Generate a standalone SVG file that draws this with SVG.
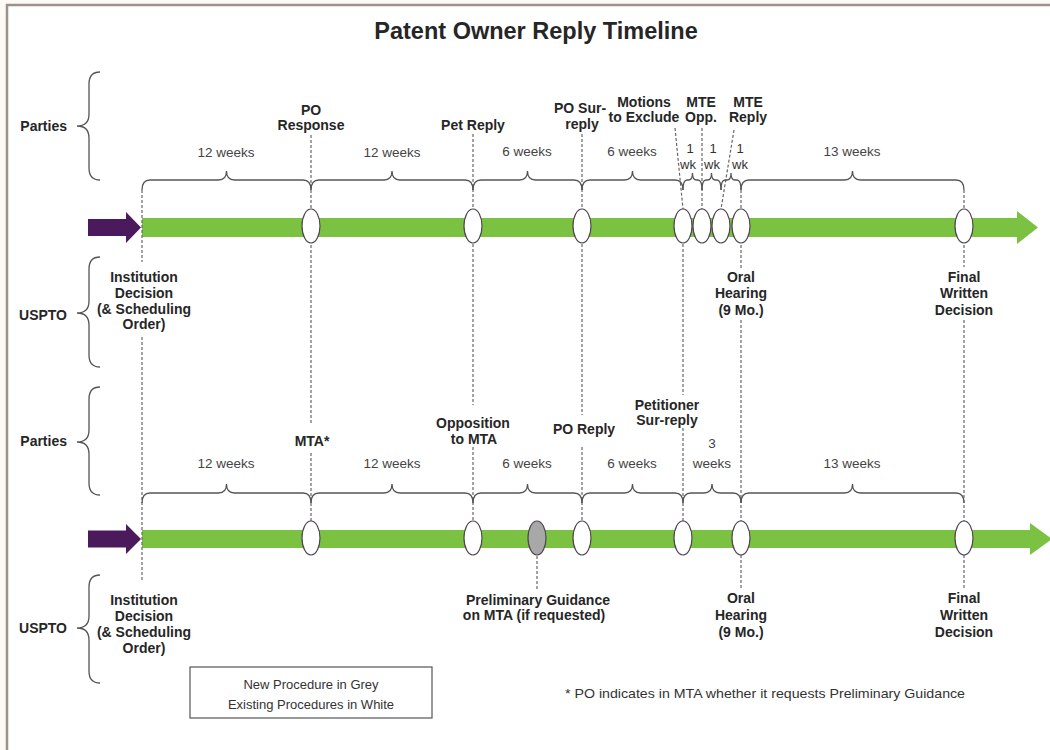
<svg xmlns="http://www.w3.org/2000/svg" width="1050" height="750" viewBox="0 0 1050 750">
<style>
text{font-family:"Liberation Sans",Arial,sans-serif;fill:#262626}
.t{font-size:23.5px;font-weight:bold;text-anchor:middle}
.b{font-size:14px;font-weight:bold;text-anchor:middle}
.s{font-size:14px;font-weight:bold;text-anchor:end}
.w{font-size:13.5px;text-anchor:middle;fill:#444}
.n{font-size:13px;text-anchor:middle;fill:#333}
.br{fill:none;stroke:#555;stroke-width:1.3}
.d{fill:none;stroke:#666;stroke-width:1.2;stroke-dasharray:3 2}
.ev{fill:#fff;stroke:#4d4450;stroke-width:1.2}
.pg{fill:#a8a8a8;stroke:#4d4450;stroke-width:1.2}
.green{fill:#7cc242}
.purple{fill:#4a1a5c}
</style>
<rect x="0" y="0" width="1050" height="750" fill="#fdfaf6"/>
<rect x="7" y="5" width="1060" height="760" fill="#ffffff" stroke="#9c928b" stroke-width="2.5"/>
<text class="t" x="536" y="39">Patent Owner Reply Timeline</text>

<g id="side-labels">
<text class="s" x="67" y="131">Parties</text>
<text class="s" x="67" y="320">USPTO</text>
<text class="s" x="67" y="446">Parties</text>
<text class="s" x="67" y="633">USPTO</text>
<path class="br" d="M100,72 Q89,72 89,84 L89,114 Q89,126 77,126 Q89,126 89,138 L89,168 Q89,180 100,180"/>
<path class="br" d="M100,257 Q89,257 89,269 L89,301 Q89,313 77,313 Q89,313 89,325 L89,355 Q89,367 100,367"/>
<path class="br" d="M100,387 Q89,387 89,399 L89,430 Q89,442 77,442 Q89,442 89,454 L89,483 Q89,495 100,495"/>
<path class="br" d="M100,575 Q89,575 89,587 L89,616 Q89,628 77,628 Q89,628 89,640 L89,671 Q89,683 100,683"/>
</g>

<g id="bars">
<polygon class="purple" points="88,219 126,219 126,212 141,227.5 126,243 126,236 88,236"/>
<polygon class="green" points="142,218 1017,218 1017,211 1038,227.5 1017,244 1017,237 142,237"/>
<polygon class="purple" points="88,530.5 126,530.5 126,524 141,539 126,554 126,547.5 88,547.5"/>
<polygon class="green" points="142,530 1030,530 1030,523 1052,539 1030,555 1030,548 142,548"/>
</g>

<g id="connectors">
<path class="d" d="M142,190 V262 M142,337 V580"/>
<path class="d" d="M311,135 V423 M311,453 V521"/>
<path class="d" d="M473,134 V405 M473,447 V521"/>
<path class="d" d="M582,134 V415 M582,447 V521"/>
<path class="d" d="M675,128 L683,209 M683,244 V395 M683,428 V521"/>
<path class="d" d="M702,128 V209"/>
<path class="d" d="M734,130 L721,209"/>
<path class="d" d="M741,190 V268 M741,320 V590"/>
<path class="d" d="M964,190 V267 M964,320 V590"/>
<path class="d" d="M537,556 V590"/>
<!-- top braces -->
<path class="br" d="M142,190 Q142,180 150,180 L218.5,180 Q226.5,180 226.5,171 Q226.5,180 234.5,180 L303,180 Q311,180 311,190"/>
<path class="br" d="M311,190 Q311,180 319,180 L384,180 Q392,180 392,171 Q392,180 400,180 L465,180 Q473,180 473,190"/>
<path class="br" d="M473,190 Q473,180 481,180 L519.5,180 Q527.5,180 527.5,171 Q527.5,180 535.5,180 L574,180 Q582,180 582,190"/>
<path class="br" d="M582,190 Q582,180 590,180 L624.5,180 Q632.5,180 632.5,171 Q632.5,180 640.5,180 L675,180 Q683,180 683,190"/>
<path class="br" d="M683,190 Q683,180 687,180 L688.5,180 Q692.5,180 692.5,173 Q692.5,180 696.5,180 L698,180 Q702,180 702,190"/>
<path class="br" d="M702,190 Q702,180 706,180 L707.5,180 Q711.5,180 711.5,173 Q711.5,180 715.5,180 L717,180 Q721,180 721,190"/>
<path class="br" d="M721,190 Q721,180 725,180 L727,180 Q731,180 731,173 Q731,180 735,180 L737,180 Q741,180 741,190"/>
<path class="br" d="M741,190 Q741,180 749,180 L844.5,180 Q852.5,180 852.5,171 Q852.5,180 860.5,180 L956,180 Q964,180 964,190"/>
<!-- bottom braces -->
<path class="br" d="M142,503 Q142,493 150,493 L218.5,493 Q226.5,493 226.5,484 Q226.5,493 234.5,493 L303,493 Q311,493 311,503"/>
<path class="br" d="M311,503 Q311,493 319,493 L384,493 Q392,493 392,484 Q392,493 400,493 L465,493 Q473,493 473,503"/>
<path class="br" d="M473,503 Q473,493 481,493 L519.5,493 Q527.5,493 527.5,484 Q527.5,493 535.5,493 L574,493 Q582,493 582,503"/>
<path class="br" d="M582,503 Q582,493 590,493 L624.5,493 Q632.5,493 632.5,484 Q632.5,493 640.5,493 L675,493 Q683,493 683,503"/>
<path class="br" d="M683,503 Q683,493 691,493 L704,493 Q712,493 712,484 Q712,493 720,493 L733,493 Q741,493 741,503"/>
<path class="br" d="M741,503 Q741,493 749,493 L844.5,493 Q852.5,493 852.5,484 Q852.5,493 860.5,493 L956,493 Q964,493 964,503"/>
</g>

<g id="top-timeline">
<g id="t-institution"><text class="b" x="144" y="282">Institution</text><text class="b" x="144" y="298">Decision</text><text class="b" x="144" y="314">(&amp; Scheduling</text><text class="b" x="144" y="329">Order)</text></g>
<g id="t-po-response"><ellipse class="ev" cx="311" cy="226" rx="9" ry="17"/><text class="b" x="311" y="115">PO</text><text class="b" x="311" y="130">Response</text></g>
<g id="t-pet-reply"><ellipse class="ev" cx="473" cy="226" rx="9" ry="17"/><text class="b" x="473" y="130">Pet Reply</text></g>
<g id="t-po-surreply"><ellipse class="ev" cx="582" cy="226" rx="9" ry="17"/><text class="b" x="580" y="113">PO Sur-</text><text class="b" x="582" y="129">reply</text></g>
<g id="t-mte"><ellipse class="ev" cx="683" cy="226" rx="9" ry="17"/><text class="b" x="644" y="107">Motions</text><text class="b" x="644" y="122">to Exclude</text></g>
<g id="t-mte-opp"><ellipse class="ev" cx="702" cy="226" rx="9" ry="17"/><text class="b" x="701" y="107">MTE</text><text class="b" x="701" y="122">Opp.</text></g>
<g id="t-mte-reply"><ellipse class="ev" cx="721" cy="226" rx="9" ry="17"/><text class="b" x="748" y="107">MTE</text><text class="b" x="748" y="122">Reply</text></g>
<g id="t-oral"><ellipse class="ev" cx="741" cy="226" rx="9" ry="17"/><text class="b" x="741" y="282">Oral</text><text class="b" x="741" y="298">Hearing</text><text class="b" x="741" y="315">(9 Mo.)</text></g>
<g id="t-final"><ellipse class="ev" cx="964" cy="226" rx="9" ry="17"/><text class="b" x="964" y="282">Final</text><text class="b" x="964" y="298">Written</text><text class="b" x="964" y="315">Decision</text></g>
<g id="t-durations">
<text class="w" x="226" y="157">12 weeks</text>
<text class="w" x="392" y="157">12 weeks</text>
<text class="w" x="527" y="156">6 weeks</text>
<text class="w" x="632" y="156">6 weeks</text>
<text class="w" x="852" y="156">13 weeks</text>
<text class="n" x="690" y="153">1</text><text class="n" x="688" y="169">wk</text>
<text class="n" x="713" y="153">1</text><text class="n" x="712" y="169">wk</text>
<text class="n" x="740" y="153">1</text><text class="n" x="740" y="169">wk</text>
</g>
</g>

<g id="bottom-timeline">
<g id="b-institution"><text class="b" x="144" y="605">Institution</text><text class="b" x="144" y="621">Decision</text><text class="b" x="144" y="637">(&amp; Scheduling</text><text class="b" x="144" y="653">Order)</text></g>
<g id="b-mta"><ellipse class="ev" cx="311" cy="538" rx="9" ry="17"/><text class="b" x="312" y="446">MTA*</text></g>
<g id="b-opposition"><ellipse class="ev" cx="473" cy="538" rx="9" ry="17"/><text class="b" x="473" y="428">Opposition</text><text class="b" x="474" y="444">to MTA</text></g>
<g id="b-guidance"><ellipse class="pg" cx="537" cy="538" rx="9" ry="17"/><text class="b" x="538" y="605">Preliminary Guidance</text><text class="b" x="534" y="620">on MTA (if requested)</text></g>
<g id="b-po-reply"><ellipse class="ev" cx="582" cy="538" rx="9" ry="17"/><text class="b" x="584" y="434">PO Reply</text></g>
<g id="b-pet-surreply"><ellipse class="ev" cx="683" cy="538" rx="9" ry="17"/><text class="b" x="667" y="410">Petitioner</text><text class="b" x="667" y="425">Sur-reply</text></g>
<g id="b-oral"><ellipse class="ev" cx="741" cy="538" rx="9" ry="17"/><text class="b" x="741" y="603">Oral</text><text class="b" x="741" y="620">Hearing</text><text class="b" x="741" y="637">(9 Mo.)</text></g>
<g id="b-final"><ellipse class="ev" cx="964" cy="538" rx="9" ry="17"/><text class="b" x="964" y="603">Final</text><text class="b" x="964" y="620">Written</text><text class="b" x="964" y="637">Decision</text></g>
<g id="b-durations">
<text class="w" x="226" y="468">12 weeks</text>
<text class="w" x="392" y="468">12 weeks</text>
<text class="w" x="527" y="468">6 weeks</text>
<text class="w" x="632" y="468">6 weeks</text>
<text class="w" x="852" y="468">13 weeks</text>
<text class="w" x="712" y="448">3</text>
<text class="w" x="712" y="468">weeks</text>
</g>
</g>

<g id="legend">
<rect x="190" y="667" width="242" height="51" fill="#fff" stroke="#555" stroke-width="1.2"/>
<text class="n" x="311" y="689">New Procedure in Grey</text>
<text class="n" x="311" y="709">Existing Procedures in White</text>
</g>
<g id="footnote">
<text x="565" y="698" style="font-size:13px;fill:#333" textLength="400" lengthAdjust="spacingAndGlyphs">* PO indicates in MTA whether it requests Preliminary Guidance</text>
</g>
</svg>
